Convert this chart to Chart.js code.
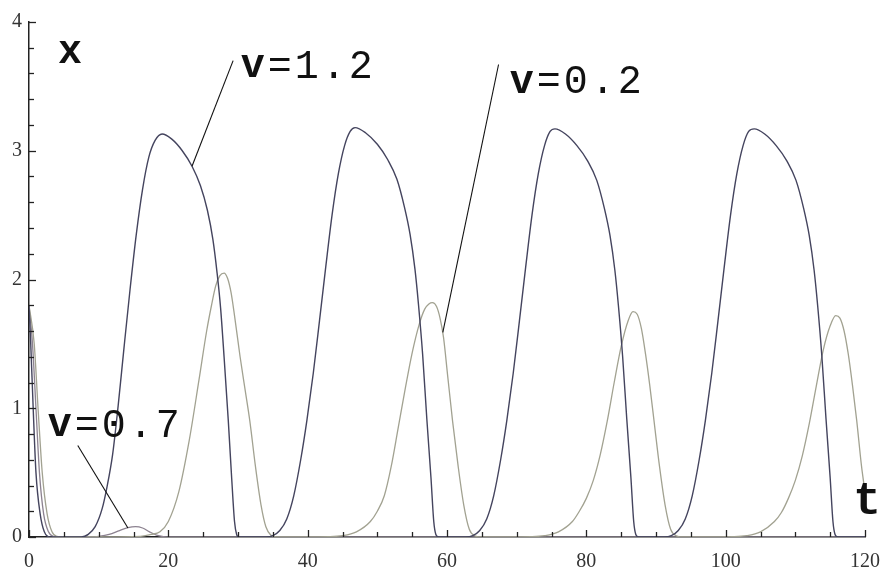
<!DOCTYPE html>
<html>
<head>
<meta charset="utf-8">
<script src="https://cdn.jsdelivr.net/npm/chart.js@4.4.1/dist/chart.umd.min.js"></script>
<style>
  html, body { margin: 0; padding: 0; background: #ffffff; }
  #wrap { width: 880px; height: 571px; position: relative; }
</style>
</head>
<body>
<div id="wrap"><canvas id="c" width="880" height="571"></canvas></div>
<script>
// ---- Data ----
const xTicks = [0, 20, 40, 60, 80, 100, 120];
const yTicks = [0, 1, 2, 3, 4];

// v = 1.2 (dark curve)
const tV12 = [0,0.25,0.6,1.0,1.6,2.2,3,7.5,8.5,9.5,10.5,11.2,12,12.8,13.6,14.5,15.4,16.3,17.2,18.1,19.1,20.5,22,23.4,24.6,25.6,26.4,27,27.5,28,28.6,29.1,29.5,29.8,30.1,
  34,35,36,37,38,39,39.9,40.8,41.7,42.6,43.5,44.4,45.3,46.1,46.8,48.3,50,51.5,52.8,53.9,54.7,55.4,55.9,56.5,57.1,57.7,58.1,58.4,58.8,
  62.7,63.7,64.7,65.7,66.7,67.7,68.6,69.5,70.4,71.3,72.2,73.1,74,74.8,75.5,77,78.65,80.2,81.5,82.6,83.4,84.1,84.6,85.2,85.8,86.4,86.8,87.1,87.5,
  91.2,92.2,93.2,94.2,95.2,96.2,97.1,98,98.9,99.8,100.7,101.6,102.5,103.3,104.1,105.6,107.25,108.8,110.1,111.2,112,112.7,113.2,113.8,114.4,115,115.4,115.7,116.1,120];
const xV12 = [1.8,1.5,1.0,0.5,0.18,0.04,0,0,0.02,0.08,0.22,0.39,0.64,1.02,1.45,1.92,2.35,2.7,2.95,3.08,3.13,3.09,3.0,2.88,2.73,2.54,2.31,2.05,1.78,1.4,0.91,0.45,0.12,0.02,0,
  0,0.01,0.05,0.14,0.32,0.6,0.91,1.27,1.68,2.1,2.5,2.82,3.04,3.15,3.18,3.14,3.05,2.93,2.78,2.56,2.35,2.08,1.81,1.42,0.92,0.46,0.12,0.02,0,
  0,0.01,0.05,0.14,0.32,0.6,0.91,1.27,1.68,2.1,2.5,2.82,3.04,3.15,3.17,3.13,3.04,2.92,2.77,2.55,2.34,2.07,1.8,1.41,0.92,0.46,0.12,0.02,0,
  0,0.01,0.05,0.14,0.32,0.6,0.91,1.27,1.68,2.1,2.5,2.82,3.04,3.15,3.17,3.13,3.04,2.92,2.77,2.55,2.34,2.07,1.8,1.41,0.92,0.46,0.12,0.02,0,0];

// v = 0.2 (light curve)
const tV02 = [0,0.75,1.3,1.9,2.6,3.3,4,5,16,17.5,18.8,20,21.5,23,24.4,25.5,26.2,26.8,27.4,28,28.5,29,29.5,30.3,31,31.7,32.5,33.3,34,34.7,35.5,
  43,45,47,49,50,51,52,53,54,55,56,56.8,57.4,57.9,58.5,59,59.5,60.1,60.8,61.6,62.4,63.2,64,65,
  72,74,76,78,79,80,81,82,83,84,85,86,86.7,87.3,87.9,88.5,89.1,89.7,90.5,91.3,92.1,92.9,94,
  101,103,105,107,108,109,110,111,112,113,114,115,115.8,116.4,117,117.6,118.2,118.8,119.5,120];
const xV02 = [1.8,1.5,1.0,0.5,0.18,0.04,0.005,0,0.005,0.02,0.04,0.12,0.35,0.75,1.22,1.6,1.8,1.95,2.03,2.05,2.01,1.9,1.72,1.4,1.15,0.9,0.55,0.25,0.08,0.015,0,
  0.003,0.01,0.04,0.12,0.2,0.32,0.55,0.85,1.15,1.43,1.65,1.77,1.81,1.82,1.79,1.7,1.55,1.25,0.9,0.55,0.25,0.06,0.01,0,
  0.003,0.01,0.04,0.12,0.2,0.3,0.44,0.64,0.9,1.2,1.48,1.68,1.75,1.73,1.62,1.42,1.18,0.91,0.55,0.25,0.06,0.01,0,
  0.003,0.01,0.04,0.12,0.19,0.3,0.44,0.63,0.88,1.17,1.45,1.64,1.72,1.7,1.6,1.42,1.18,0.91,0.55,0.35];

// v = 0.7 (small bump)
const tV07 = [0,0.5,1.0,1.5,2.1,2.8,3.5,4.5,9,10,11.5,13,14.2,15.3,16.3,17.3,18.3,19.3,20.5,120];
const xV07 = [1.8,1.5,1.0,0.5,0.18,0.04,0.005,0,0,0.005,0.02,0.05,0.072,0.08,0.07,0.04,0.015,0.003,0,0];

// Labels (text + anchor in data units) and leader lines (data units)
const curveLabels = [
  { text: 'v=1.2', t: 30.4, x: 3.65 },
  { text: 'v=0.2', t: 69.0, x: 3.53 },
  { text: 'v=0.7', t: 2.7,  x: 0.86 }
];
const leaders = [
  { t1: 29.3, x1: 3.70, t2: 23.4, x2: 2.88 },
  { t1: 67.4, x1: 3.67, t2: 59.4, x2: 1.59 },
  { t1: 7.0,  x1: 0.71, t2: 14.2, x2: 0.07 }
];
const axisNames = [
  { text: 'x', t: 5.9, x: 3.76, size: 40 },
  { text: 't', t: 120.3, x: 0.27, size: 46 }
];

function pts(ts, xs) { return ts.map((t, i) => ({ x: t, y: xs[i] })); }

const decoPlugin = {
  id: 'deco',
  afterDraw(chart) {
    const ctx = chart.ctx;
    const sx = chart.scales.x, sy = chart.scales.y;
    const ca = chart.chartArea;
    ctx.save();
    // tick marks pointing into the plot (Mathematica style)
    ctx.strokeStyle = '#222';
    ctx.lineWidth = 1.3;
    for (let v = 0; v <= 120; v += 5) {
      const px = Math.round(sx.getPixelForValue(v)) + 0.5;
      const len = (v % 20 === 0) ? 7 : 5;
      ctx.beginPath(); ctx.moveTo(px, ca.bottom); ctx.lineTo(px, ca.bottom - len); ctx.stroke();
    }
    for (let k = 0; k <= 20; k++) {
      const v = k * 0.2;
      const py = Math.round(sy.getPixelForValue(v)) + 0.5;
      const len = (k % 5 === 0) ? 7 : 5;
      ctx.beginPath(); ctx.moveTo(ca.left, py); ctx.lineTo(ca.left + len, py); ctx.stroke();
    }
    // leader lines
    ctx.strokeStyle = '#111';
    ctx.lineWidth = 1.1;
    leaders.forEach(l => {
      ctx.beginPath();
      ctx.moveTo(sx.getPixelForValue(l.t1), sy.getPixelForValue(l.x1));
      ctx.lineTo(sx.getPixelForValue(l.t2), sy.getPixelForValue(l.x2));
      ctx.stroke();
    });
    // curve labels
    ctx.fillStyle = '#111';
    ctx.textBaseline = 'middle';
    ctx.textAlign = 'left';
    curveLabels.forEach(lb => {
      const px = sx.getPixelForValue(lb.t);
      const py = sy.getPixelForValue(lb.x);
      lb.text.split('').forEach((ch, i) => {
        ctx.font = (i === 0 ? 'bold ' : '') + '40px "Liberation Mono", "DejaVu Sans Mono", monospace';
        ctx.fillText(ch, px + i * 27, py);
      });
    });
    // axis names
    ctx.textAlign = 'center';
    axisNames.forEach(a => {
      ctx.font = 'bold ' + a.size + 'px "Liberation Mono", "DejaVu Sans Mono", monospace';
      ctx.fillText(a.text, sx.getPixelForValue(a.t), sy.getPixelForValue(a.x));
    });
    ctx.restore();
  }
};

const bgPlugin = {
  id: 'bg',
  beforeDraw(chart) {
    const ctx = chart.ctx;
    ctx.save(); ctx.fillStyle = '#ffffff';
    ctx.fillRect(0, 0, chart.width, chart.height);
    ctx.restore();
  }
};

const tickFont = { family: '"Liberation Serif", "Times New Roman", serif', size: 20 };

new Chart(document.getElementById('c'), {
  type: 'line',
  data: {
    datasets: [
      { label: 'v=1.2', data: pts(tV12, xV12), borderColor: '#44445e', borderWidth: 1.4 },
      { label: 'v=0.2', data: pts(tV02, xV02), borderColor: '#a2a291', borderWidth: 1.3 },
      { label: 'v=0.7', data: pts(tV07, xV07), borderColor: '#8c8290', borderWidth: 1.3 }
    ]
  },
  options: {
    responsive: false,
    animation: false,
    elements: { point: { radius: 0 }, line: { cubicInterpolationMode: 'monotone', fill: false } },
    layout: { padding: { top: 22, right: 15, left: 0, bottom: 0 } },
    plugins: { legend: { display: false }, tooltip: { enabled: false }, title: { display: false } },
    scales: {
      x: {
        type: 'linear', min: 0, max: 120,
        afterBuildTicks: s => { s.ticks = xTicks.map(v => ({ value: v })); },
        ticks: { font: tickFont, color: '#333', padding: 13, maxRotation: 0, autoSkip: false },
        grid: { display: false, drawTicks: false },
        border: { display: true, color: '#222', width: 1.5 },
        afterFit: s => { s.height = 34; s.paddingLeft = 0; s.paddingRight = 0; }
      },
      y: {
        type: 'linear', min: 0, max: 4,
        afterBuildTicks: s => { s.ticks = yTicks.map(v => ({ value: v })); },
        ticks: { font: tickFont, color: '#333', padding: 7, autoSkip: false },
        grid: { display: false, drawTicks: false },
        border: { display: true, color: '#222', width: 1.5 },
        afterFit: s => { s.width = 29; s.paddingTop = 0; s.paddingBottom = 0; }
      }
    }
  },
  plugins: [bgPlugin, decoPlugin]
});
</script>
</body>
</html>
